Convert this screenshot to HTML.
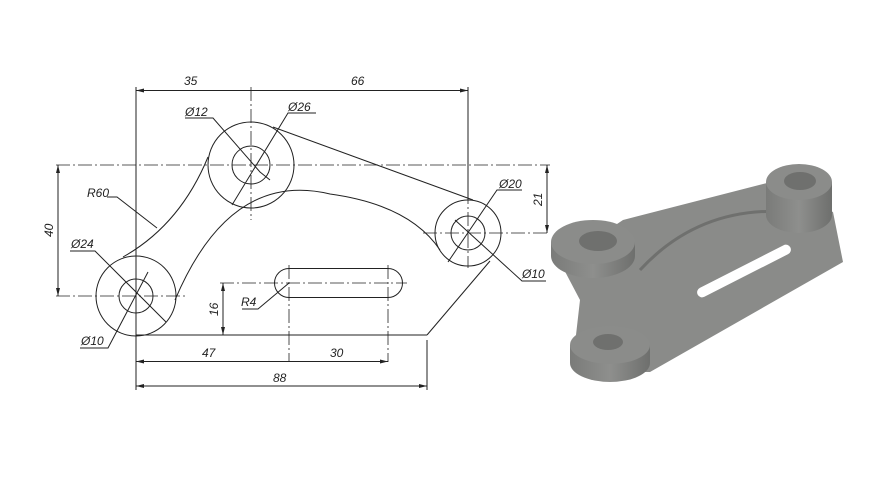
<!DOCTYPE html>
<html><head><meta charset="utf-8"><style>
html,body{margin:0;padding:0;background:#fff}
svg{display:block}
text{font-family:"Liberation Sans",sans-serif;font-style:italic;font-size:12px;fill:#222}
</style></head><body>
<svg width="880" height="495" viewBox="0 0 880 495" xmlns="http://www.w3.org/2000/svg">
<g stroke="#222" stroke-width="1" fill="none">
<!-- center lines -->
<g stroke-dasharray="14,3,2,3" stroke-width="0.8">
<line x1="56" y1="165" x2="550" y2="165"/>
<line x1="56" y1="296" x2="187" y2="296"/>
<line x1="423" y1="233" x2="550" y2="233"/>
<line x1="220" y1="283" x2="407" y2="283"/>
<line x1="136" y1="252" x2="136" y2="345"/>
<line x1="251" y1="87" x2="251" y2="220"/>
<line x1="468" y1="190" x2="468" y2="268"/>
<line x1="289" y1="265" x2="289" y2="362"/>
<line x1="388" y1="265" x2="388" y2="362"/>
</g>
<!-- circles -->
<circle cx="136" cy="296" r="40"/><circle cx="136" cy="296" r="17"/>
<circle cx="251" cy="165" r="43"/><circle cx="251" cy="165" r="19"/>
<circle cx="468" cy="233" r="33"/><circle cx="468" cy="233" r="17"/>
<!-- outline -->
<line x1="136" y1="335" x2="427" y2="335"/>
<line x1="427" y1="335" x2="490" y2="261"/>
<line x1="273" y1="127" x2="473" y2="200"/>
<path d="M123,257 Q180,225 208,157"/>
<path d="M175,300 Q230,170 330,194 Q410,205 440,250"/>
<!-- slot -->
<path d="M289,268.5 L388,268.5 A14.5,14.5 0 0 1 388,297.5 L289,297.5 A14.5,14.5 0 0 1 289,268.5 Z"/>
<!-- dimension lines -->
<line x1="136" y1="87" x2="136" y2="335"/>
<line x1="468" y1="87" x2="468" y2="200"/>
<line x1="136" y1="90.5" x2="468" y2="90.5"/>
<line x1="58" y1="165" x2="58" y2="296"/>
<line x1="547" y1="165" x2="547" y2="233"/>
<line x1="223" y1="283" x2="223" y2="335"/>
<line x1="136" y1="335" x2="136" y2="390"/>
<line x1="136" y1="361.5" x2="388" y2="361.5"/>
<line x1="136" y1="386" x2="427" y2="386"/>
<line x1="427" y1="340" x2="427" y2="390"/>
<!-- leaders -->
<path d="M185,118 L213,118 L260,172 L270,180"/>
<path d="M316,113 L288,113 L232,205"/>
<path d="M107,197 L117,197 L157,228"/>
<path d="M70,251 L95,251 L166,322"/>
<path d="M80,348 L108,348 L148,272"/>
<path d="M522,190 L497,190 L448,262"/>
<path d="M546,281 L522,281 L455,220"/>
<path d="M242,309 L258,309 L289,283"/>
</g>
<!-- arrowheads -->
<g fill="#222">
<polygon points="136,90.5 144,88.5 144,92.5"/><polygon points="468,90.5 460,88.5 460,92.5"/>
<polygon points="58,165 56,173 60,173"/><polygon points="58,296 56,288 60,288"/>
<polygon points="547,165 545,173 549,173"/><polygon points="547,233 545,225 549,225"/>
<polygon points="223,283 221,291 225,291"/><polygon points="223,335 221,327 225,327"/>
<polygon points="136,361.5 144,359.5 144,363.5"/><polygon points="388,361.5 380,359.5 380,363.5"/>
<polygon points="136,386 144,384 144,388"/><polygon points="427,386 419,384 419,388"/>
</g>
<text x="184" y="85">35</text><text x="351" y="85">66</text>
<text x="185" y="116">Ø12</text><text x="288" y="111">Ø26</text>
<text x="87" y="197">R60</text><text x="71" y="248">Ø24</text>
<text x="81" y="345">Ø10</text><text x="499" y="188">Ø20</text>
<text x="522" y="278">Ø10</text><text x="241" y="306">R4</text>
<text x="202" y="357">47</text><text x="330" y="357">30</text><text x="273" y="382">88</text>
<text transform="translate(53,237) rotate(-90)">40</text>
<text transform="translate(542,206) rotate(-90)">21</text>
<text transform="translate(218,316) rotate(-90)">16</text>
<!-- 3D part -->
<defs>
<linearGradient id="cyl" x1="0" x2="1"><stop offset="0" stop-color="#7a7b79"/><stop offset="0.5" stop-color="#8e8f8d"/><stop offset="1" stop-color="#6e6f6d"/></linearGradient>
</defs>
<polygon points="623,220 767,183 833,212 843,262 650,372 610,372 576,335 580,300 560,262" fill="#8a8b89"/>
<path d="M640,270 Q700,205 790,212" stroke="#6f706e" stroke-width="3" fill="none"/>
<rect x="766" y="182" width="66" height="33" fill="url(#cyl)"/>
<ellipse cx="799" cy="215" rx="33" ry="18" fill="url(#cyl)"/>
<ellipse cx="799" cy="182" rx="33" ry="18" fill="#8b8c8a"/>
<ellipse cx="800" cy="181" rx="16" ry="9" fill="#6f706e"/>
<rect x="551" y="242" width="84" height="14" fill="url(#cyl)"/>
<ellipse cx="593" cy="256" rx="42" ry="22" fill="url(#cyl)"/>
<ellipse cx="593" cy="242" rx="42" ry="22" fill="#8b8c8a"/>
<ellipse cx="598" cy="241" rx="19" ry="10" fill="#6f706e"/>
<rect x="570" y="345" width="80" height="18" fill="url(#cyl)"/>
<ellipse cx="610" cy="363" rx="40" ry="19" fill="url(#cyl)"/>
<ellipse cx="610" cy="345" rx="40" ry="19" fill="#8b8c8a"/>
<ellipse cx="608" cy="342" rx="15" ry="8" fill="#6f706e"/>
<rect x="692" y="266" width="104" height="10" rx="5" fill="#fff" transform="rotate(-27 744 271)"/>
</svg>
</body></html>
